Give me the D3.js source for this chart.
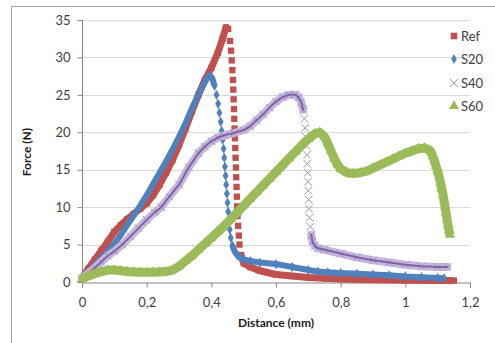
<!DOCTYPE html>
<html>
<head>
<meta charset="utf-8">
<script src="https://cdnjs.cloudflare.com/ajax/libs/d3/7.8.5/d3.min.js"></script>
<style>
  html, body { margin: 0; padding: 0; background: #fff; }
  svg { display: block; }
</style>
</head>
<body>
<svg id="chart" width="495" height="343"></svg>
<script>
// ---------------- data ----------------
const seriesNames = ["Ref", "S20", "S40", "S60"];
const xTicks = [0, 0.2, 0.4, 0.6, 0.8, 1, 1.2];
const yTicks = [0, 5, 10, 15, 20, 25, 30, 35];

const refX = [0, 0.02, 0.04, 0.06, 0.08, 0.1, 0.12, 0.14, 0.16, 0.18, 0.2, 0.22, 0.24, 0.26, 0.28, 0.3, 0.32, 0.34, 0.36, 0.38, 0.4, 0.42, 0.435, 0.445, 0.452,
  0.458, 0.461, 0.463, 0.465, 0.467, 0.468, 0.469, 0.47, 0.471, 0.472, 0.473, 0.474, 0.475, 0.476, 0.477, 0.478, 0.479, 0.48, 0.481, 0.483, 0.485, 0.487, 0.492, 0.5,
  0.52, 0.55, 0.6, 0.65, 0.7, 0.75, 0.8, 0.85, 0.9, 0.95, 1.0, 1.05, 1.1, 1.15];
const refY = [0.5, 1.8, 3.0, 4.2, 5.4, 6.7, 7.6, 8.4, 9.1, 9.8, 10.5, 11.6, 13, 14.6, 16.3, 18.3, 20.5, 22.8, 25, 27, 28.6, 30.6, 32.5, 34, 33.8,
  32.2, 30.9, 29.6, 28.3, 27, 25.7, 24.4, 23.1, 21.8, 20.5, 19.2, 17.9, 16.6, 15.3, 14, 12.7, 11.4, 10.1, 8.8, 7.5, 6.2, 5, 3.6, 2.5,
  2.0, 1.5, 1.0, 0.8, 0.6, 0.5, 0.4, 0.35, 0.3, 0.28, 0.25, 0.22, 0.2, 0.2];

const s20X = [0, 0.02, 0.04, 0.06, 0.08, 0.1, 0.12, 0.14, 0.16, 0.18, 0.2, 0.22, 0.24, 0.26, 0.28, 0.3, 0.32, 0.34, 0.36, 0.375, 0.385, 0.395, 0.403,
  0.41, 0.416, 0.421, 0.425, 0.429, 0.432, 0.435, 0.438, 0.44, 0.442, 0.444, 0.446, 0.448, 0.45, 0.452, 0.454, 0.457, 0.46, 0.465, 0.472, 0.482, 0.495,
  0.52, 0.55, 0.6, 0.65, 0.7, 0.73, 0.76, 0.8, 0.85, 0.9, 0.95, 1.0, 1.05, 1.1, 1.12];
const s20Y = [0.5, 1.3, 2.3, 3.2, 4.1, 5.1, 6.3, 7.6, 8.9, 10.2, 11.6, 13.1, 14.6, 16.1, 17.7, 19.4, 21.2, 23.2, 25, 26.3, 27.1, 27.6, 27.2,
  26.2, 25, 23.8, 22.6, 21.4, 20.2, 19, 17.8, 16.6, 15.4, 14.2, 13, 11.8, 10.6, 9.4, 8.2, 7, 5.9, 4.9, 4.1, 3.5, 3.1,
  2.8, 2.6, 2.4, 2.0, 1.6, 1.4, 1.3, 1.2, 1.1, 1.0, 0.9, 0.75, 0.65, 0.55, 0.5];

const s40X = [0, 0.02, 0.04, 0.06, 0.08, 0.1, 0.125, 0.15, 0.175, 0.2, 0.225, 0.245, 0.27, 0.3, 0.33, 0.36, 0.38, 0.4, 0.42, 0.44, 0.47, 0.5, 0.52, 0.54, 0.56, 0.58, 0.6, 0.62, 0.64, 0.66, 0.67, 0.678,
  0.684, 0.688, 0.69, 0.692, 0.694, 0.696, 0.697, 0.698, 0.699, 0.7, 0.701, 0.702, 0.704, 0.706, 0.709, 0.713, 0.72, 0.73,
  0.75, 0.8, 0.85, 0.9, 0.95, 1.0, 1.05, 1.1, 1.13];
const s40Y = [0.5, 1.2, 1.9, 2.7, 3.5, 4.1, 5, 6.1, 7.2, 8.3, 9.3, 10, 11.4, 13, 15.3, 17.2, 18.1, 18.8, 19.3, 19.6, 19.9, 20.3, 20.8, 21.6, 22.4, 23.3, 24.1, 24.7, 25, 25, 24.7, 24,
  23, 21.8, 20.6, 19.4, 18.2, 17, 15.8, 14.6, 13.4, 12.2, 11, 9.8, 8.6, 7.4, 6.3, 5.4, 4.8, 4.5,
  4.3, 3.8, 3.3, 2.9, 2.6, 2.3, 2.1, 2.0, 2.0];

const s60X = [0, 0.02, 0.04, 0.06, 0.08, 0.1, 0.12, 0.14, 0.16, 0.18, 0.2, 0.22, 0.24, 0.26, 0.28, 0.3, 0.32, 0.34, 0.36, 0.38, 0.4, 0.42, 0.44, 0.46, 0.48, 0.5, 0.52, 0.54, 0.56, 0.58, 0.6, 0.62, 0.64, 0.66, 0.68, 0.7, 0.72, 0.735,
  0.75, 0.76, 0.77, 0.78, 0.79, 0.8, 0.82, 0.84, 0.86, 0.88, 0.9, 0.92, 0.94, 0.96, 0.98, 1.0, 1.02, 1.04, 1.06, 1.075,
  1.08, 1.085, 1.09, 1.095, 1.1, 1.105, 1.109, 1.113, 1.117, 1.12, 1.123, 1.126, 1.129, 1.132, 1.135, 1.138];
const s60Y = [0.4, 0.8, 1.1, 1.4, 1.6, 1.6, 1.5, 1.4, 1.35, 1.3, 1.3, 1.3, 1.35, 1.4, 1.6, 2.1, 2.8, 3.5, 4.3, 5.1, 5.9, 6.7, 7.5, 8.4, 9.3, 10.2, 11.1, 12, 12.9, 13.8, 14.7, 15.6, 16.5, 17.4, 18.3, 19.1, 19.8, 20,
  19.4, 18.5, 17.5, 16.5, 15.7, 15.1, 14.6, 14.5, 14.6, 14.8, 15.2, 15.6, 16, 16.4, 16.8, 17.2, 17.5, 17.8, 17.9, 17.6,
  17.3, 16.8, 16.2, 15.5, 14.8, 14.0, 13.2, 12.4, 11.6, 10.8, 10.0, 9.2, 8.4, 7.6, 6.9, 6.3];

// ---------------- layout ----------------
const svg = d3.select("#chart");
const x = d3.scaleLinear().domain([0, 1.2]).range([82, 470]);
const y = d3.scaleLinear().domain([0, 35]).range([282, 20]);
const FONT = "Lato, 'Open Sans', sans-serif";

// outer chart frame (right/bottom are cropped in the reference)
svg.append("rect").attr("x", 11.5).attr("y", 6.5).attr("width", 600).attr("height", 600)
  .attr("fill", "none").attr("stroke", "#a6a6a6").attr("stroke-width", 1);

// gridlines
svg.append("g").selectAll("line").data(yTicks.filter(d => d > 0)).join("line")
  .attr("x1", 82).attr("x2", 470)
  .attr("y1", d => Math.round(y(d)) + 0.5).attr("y2", d => Math.round(y(d)) + 0.5)
  .attr("stroke", "#d9d9d9").attr("stroke-width", 1);

// axes
const yAxis = svg.append("g").attr("transform", "translate(82.5,0)")
  .call(d3.axisLeft(y).tickValues(yTicks).tickSize(5).tickPadding(7).tickFormat(d => d));
const xAxis = svg.append("g").attr("transform", "translate(0,282.5)")
  .call(d3.axisBottom(x).tickValues(xTicks).tickSize(5).tickFormat(d => String(d).replace(".", ",")));
[yAxis, xAxis].forEach(g => {
  g.select(".domain").attr("stroke", "#868686");
  g.selectAll(".tick line").attr("stroke", "#868686");
  g.selectAll(".tick text").attr("fill", "#404040").style("font-family", FONT).style("font-size", "13px");
});
yAxis.select(".domain").attr("d", "M-0," + y(35) + "V" + y(0));
xAxis.selectAll(".tick text").attr("y", 24).attr("dy", "0");

// axis titles
svg.append("text").attr("x", 276).attr("y", 327).attr("text-anchor", "middle")
  .style("font-family", FONT).style("font-size", "12px").style("font-weight", "bold").attr("fill", "#1a1a1a")
  .text("Distance (mm)");
svg.append("text").attr("transform", "translate(31,152) rotate(-90)").attr("text-anchor", "middle")
  .style("font-family", FONT).style("font-size", "12px").style("font-weight", "bold").attr("fill", "#1a1a1a")
  .text("Force (N)");

// ---------------- series ----------------
const series = [
  { name: seriesNames[0], xs: refX, ys: refY, color: "#C0504D", band: 7, sym: d3.symbolSquare, size: 40 },
  { name: seriesNames[1], xs: s20X, ys: s20Y, color: "#4F81BD", band: 6, sym: d3.symbolDiamond, size: 30 },
  { name: seriesNames[2], xs: s40X, ys: s40Y, color: "#8064A2", band: 8, sym: d3.symbolX || d3.symbolCross, size: 40 },
  { name: seriesNames[3], xs: s60X, ys: s60Y, color: "#9BBB59", band: 9, sym: d3.symbolTriangle, size: 45 }
];

svg.append("defs").append("clipPath").attr("id", "plotclip")
  .append("rect").attr("x", 70).attr("y", 10).attr("width", 410).attr("height", 280);

const line = d3.line().x(d => x(d[0])).y(d => y(d[1]));

function runs(pts) {
  // split into runs where markers visually merge into a band
  const out = []; let cur = [pts[0]];
  for (let i = 1; i < pts.length; i++) {
    const a = pts[i - 1], b = pts[i];
    const dx = Math.abs(x(b[0]) - x(a[0])), dy = Math.abs(y(b[1]) - y(a[1]));
    const dist = Math.hypot(dx, dy);
    if (dist < 7 || dx > 0.25 * dy) cur.push(b);
    else { out.push(cur); cur = [b]; }
  }
  out.push(cur);
  return out;
}

const plot = svg.append("g").attr("clip-path", "url(#plotclip)");
series.forEach((s, si) => {
  const pts = s.xs.map((v, i) => [v, s.ys[i]]);
  const g = plot.append("g");
  const rs = runs(pts).filter(r => r.length > 1);
  if (si === 2) {
    g.selectAll("path.band").data(rs).join("path").attr("class", "band")
      .attr("d", line).attr("fill", "none").attr("stroke", "#c6b6dc")
      .attr("stroke-width", s.band).attr("stroke-linejoin", "round").attr("stroke-linecap", "round");
    g.selectAll("path.mk").data(pts).join("path").attr("class", "mk")
      .attr("transform", d => `translate(${x(d[0])},${y(d[1])})`)
      .attr("d", d3.symbol(s.sym, s.size)).attr("fill", "none")
      .attr("stroke", "#a48fc4").attr("stroke-width", 1);
    g.selectAll("path.core").data(rs).join("path").attr("class", "core")
      .attr("d", line).attr("fill", "none").attr("stroke", s.color)
      .attr("stroke-width", 2).attr("stroke-linejoin", "round").attr("stroke-linecap", "round");
  } else {
    g.selectAll("path.band").data(rs).join("path").attr("class", "band")
      .attr("d", line).attr("fill", "none").attr("stroke", s.color)
      .attr("stroke-width", s.band).attr("stroke-linejoin", "round").attr("stroke-linecap", "butt");
    g.selectAll("path.mk").data(pts).join("path").attr("class", "mk")
      .attr("transform", d => `translate(${x(d[0])},${y(d[1])})`)
      .attr("d", d3.symbol(s.sym, s.size)).attr("fill", s.color);
  }
});

// ---------------- legend ----------------
const legY = [36, 59, 83, 106];
const leg = svg.append("g");
series.forEach((s, i) => {
  const gi = leg.append("g").attr("transform", `translate(454,${legY[i]})`);
  if (i === 2) {
    gi.append("path").attr("d", d3.symbol(s.sym, 45)).attr("fill", "none")
      .attr("stroke", "#a899c4").attr("stroke-width", 1);
  } else {
    gi.append("path").attr("d", d3.symbol(s.sym, i === 1 ? 28 : 44)).attr("fill", s.color);
  }
  gi.append("text").attr("x", 7).attr("y", 0).attr("dy", "0.35em")
    .style("font-family", FONT).style("font-size", "13px").attr("fill", "#404040").text(s.name);
});
</script>
</body>
</html>
